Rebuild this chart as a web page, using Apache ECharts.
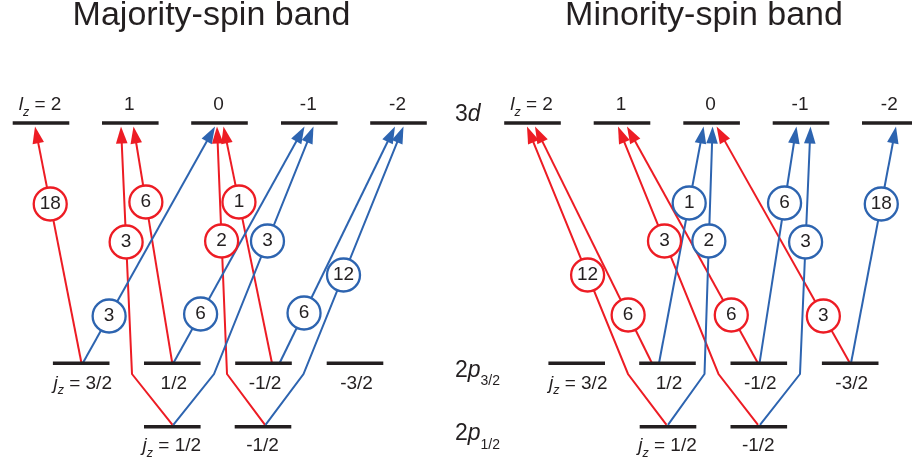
<!DOCTYPE html>
<html><head><meta charset="utf-8">
<script src="https://cdn.jsdelivr.net/npm/echarts@6/dist/echarts.min.js"></script>
<style>html,body{margin:0;padding:0;background:#fff}#c{width:912px;height:465px}</style>
</head><body><div id="c"></div>
<script>
// ================= DATA =================
const panelTitles = ['Majority-spin band', 'Minority-spin band'];
const lzValues   = ['2', '1', '0', '-1', '-2'];          // 3d levels (l_z)
const jz32Values = ['3/2', '1/2', '-1/2', '-3/2'];       // 2p3/2 levels (j_z)
const jz12Values = ['1/2', '-1/2'];                      // 2p1/2 levels (j_z)
const shellMain  = ['3', '2', '2'];
const shellItal  = ['d', 'p', 'p'];
const shellSub   = ['', '3/2', '1/2'];
// transitions: [initial shell, initial j_z index, final l_z index, relative intensity]
const majorityRed  = [['p32',0,0,18], ['p12',0,1,3], ['p32',1,1,6], ['p12',1,2,2], ['p32',2,2,1]];
const majorityBlue = [['p32',0,2,3],  ['p32',1,3,6], ['p12',0,3,3], ['p32',2,4,6], ['p12',1,4,12]];
const minorityRed  = [['p12',0,0,12], ['p32',1,0,6], ['p12',1,1,3], ['p32',2,1,6], ['p32',3,2,3]];
const minorityBlue = [['p32',1,2,1],  ['p12',0,2,2], ['p32',2,3,6], ['p12',1,3,3], ['p32',3,4,18]];

// ================= LAYOUT / STYLE =================
const RED = '#ED1C24', BLUE = '#2D64B0', INK = '#231F20';
const FAM = '"Liberation Sans", Arial, Helvetica, sans-serif';
const LAYOUT = {
  panels: [
    { d: [41, 130.3, 219.5, 309.3, 398.5], p32: [81.2, 172.3, 263.5, 355], p12: [172.3, 263], title: 211.5 },
    { d: [532.5, 622, 711.6, 801, 890.3], p32: [576.7, 667.5, 758.8, 850.2], p12: [668, 758.8], title: 704 }
  ],
  yD: 123, yP32: 363.3, yP12: 426.7, halfBar: 28.3, yBend: 374, yTip: 126.5, shellX: 455
};
// per transition: [start dx, tip dx, bend dx (2p1/2 only), circle y]
const GEOM = {
  majorityRed:  [[0.3,-6,null,204], [0.2,-9.3,-40.3,242], [0,3.2,null,202], [2,-2.5,-36,241], [8.5,4,null,202]],
  majorityBlue: [[1.5,-4.5,null,316], [1,-4.8,null,314], [1,4.2,41.7,241], [16,-3.5,null,313], [2.5,5,40.5,275]],
  minorityRed:  [[-1.5,-5.5,-40,275], [-15.5,2.5,null,315], [-0.8,-4,-40.3,241], [-0.8,5,null,315], [-0.2,5,null,316]],
  minorityBlue: [[-8.5,-8,null,203], [0,1,36.5,241], [0.7,-4.5,null,203], [1.2,9.5,41.2,242], [0.8,5.7,null,204]]
};

const groups = [
  { panel: 0, color: RED,  list: majorityRed,  geom: GEOM.majorityRed },
  { panel: 0, color: BLUE, list: majorityBlue, geom: GEOM.majorityBlue },
  { panel: 1, color: RED,  list: minorityRed,  geom: GEOM.minorityRed },
  { panel: 1, color: BLUE, list: minorityBlue, geom: GEOM.minorityBlue }
];

const arrows = [];
groups.forEach(g => {
  const P = LAYOUT.panels[g.panel];
  g.list.forEach((t, k) => {
    const [shell, fi, ti, w] = t;
    const [sdx, tdx, bdx, cy] = g.geom[k];
    const fromX = P[shell][fi];
    const pts = [];
    if (shell === 'p12') {
      pts.push([fromX + sdx, LAYOUT.yP12 - 1.8]);
      pts.push([fromX + bdx, LAYOUT.yBend]);
    } else {
      pts.push([fromX + sdx, LAYOUT.yP32]);
    }
    pts.push([P.d[ti] + tdx, LAYOUT.yTip]);
    const a = pts[pts.length - 2], b = pts[pts.length - 1];
    const f = (cy - a[1]) / (b[1] - a[1]);
    arrows.push({ pts, color: g.color, weight: w, circle: [a[0] + f * (b[0] - a[0]), cy] });
  });
});

// level bars
const bars = [];
LAYOUT.panels.forEach(P => {
  P.d.forEach(x => bars.push([x, LAYOUT.yD]));
  P.p32.forEach(x => bars.push([x, LAYOUT.yP32]));
  P.p12.forEach(x => bars.push([x, LAYOUT.yP12]));
});

// text items
const texts = [];
LAYOUT.panels.forEach((P, i) => {
  texts.push({ x: P.title, y: 15.5, align: 'center', size: 34, parts: [{ t: panelTitles[i] }] });
  lzValues.forEach((v, j) => {
    const parts = j === 0 ? [{ t: 'l', it: 1 }, { t: 'z', it: 1, sub: 1 }, { t: ' = ' + v }] : [{ t: v }];
    texts.push({ x: P.d[j] - 1, y: 104.7, align: 'center', size: 19, subSize: 12.5, drop: 7.8, parts });
  });
  jz32Values.forEach((v, j) => {
    const parts = j === 0 ? [{ t: 'j', it: 1 }, { t: 'z', it: 1, sub: 1 }, { t: ' = ' + v }] : [{ t: v }];
    texts.push({ x: P.p32[j] + 1.5, y: 383.7, align: 'center', size: 19, subSize: 12.5, drop: 7.3, parts });
  });
  jz12Values.forEach((v, j) => {
    const parts = j === 0 ? [{ t: 'j', it: 1 }, { t: 'z', it: 1, sub: 1 }, { t: ' = ' + v }] : [{ t: v }];
    texts.push({ x: P.p12[j] - 0.5, y: 446.2, align: 'center', size: 19, subSize: 12.5, drop: 7.3, parts });
  });
});
const shellY = [115, 370.6, 434];
shellMain.forEach((m, i) => {
  const parts = [{ t: m }, { t: shellItal[i], it: 1 }];
  if (shellSub[i]) parts.push({ t: shellSub[i], sub: 1 });
  texts.push({ x: LAYOUT.shellX, y: shellY[i], align: 'left', size: 23, subSize: 14, drop: 10.8, parts });
});

// ================= RENDER =================
const mctx = document.createElement('canvas').getContext('2d');
function fontOf(size, it) { return (it ? 'italic ' : '') + size + 'px ' + FAM; }
function measure(t, font) { mctx.font = font; return mctx.measureText(t).width; }

const chart = echarts.init(document.getElementById('c'), null, { renderer: 'canvas' });

function renderArrow(params, api) {
  const A = arrows[params.dataIndex];
  const pts = A.pts.map(p => api.coord(p));
  const n = pts.length, a = pts[n - 2], b = pts[n - 1];
  const dx = b[0] - a[0], dy = b[1] - a[1], L = Math.hypot(dx, dy);
  const ux = dx / L, uy = dy / L, hl = 17, hw = 5.8;
  const base = [b[0] - ux * hl, b[1] - uy * hl];
  const line = pts.slice(0, n - 1).concat([[b[0] - ux * hl * 0.7, b[1] - uy * hl * 0.7]]);
  return {
    type: 'group',
    children: [
      { type: 'polyline', shape: { points: line }, style: { stroke: A.color, lineWidth: 2, fill: null, lineJoin: 'miter' } },
      { type: 'polygon', shape: { points: [b, [base[0] - uy * hw, base[1] + ux * hw], [base[0] + uy * hw, base[1] - ux * hw]] },
        style: { fill: A.color } }
    ]
  };
}

function renderBar(params, api) {
  const c = bars[params.dataIndex];
  const p1 = api.coord([c[0] - LAYOUT.halfBar, c[1]]);
  const p2 = api.coord([c[0] + LAYOUT.halfBar, c[1]]);
  return { type: 'line', shape: { x1: p1[0], y1: p1[1], x2: p2[0], y2: p2[1] }, style: { stroke: INK, lineWidth: 3.5 } };
}

function renderText(params, api) {
  const T = texts[params.dataIndex];
  const p = api.coord([T.x, T.y]);
  const items = T.parts.map(pt => {
    const font = fontOf(pt.sub ? T.subSize : T.size, pt.it);
    return { pt, font, w: measure(pt.t, font) };
  });
  const total = items.reduce((s, it) => s + it.w, 0);
  let x = T.align === 'center' ? p[0] - total / 2 : p[0];
  const children = items.map(it => {
    const el = {
      type: 'text', x: x, y: p[1] + (it.pt.sub ? T.drop : 0),
      style: { text: it.pt.t, font: it.font, fill: INK, align: 'left', verticalAlign: 'middle', textAlign: 'left', textVerticalAlign: 'middle' }
    };
    x += it.w;
    return el;
  });
  return { type: 'group', children };
}

chart.setOption({
  animation: false,
  backgroundColor: '#ffffff',
  grid: { left: 0, right: 0, top: 0, bottom: 0 },
  xAxis: { type: 'value', min: 0, max: 912, show: false },
  yAxis: { type: 'value', min: 0, max: 465, inverse: true, show: false },
  series: [
    { type: 'custom', name: 'transitions', silent: true, z: 2, renderItem: renderArrow,
      data: arrows.map((a, i) => [a.pts[0][0], a.pts[0][1], i]) },
    { type: 'scatter', name: 'intensity', silent: true, z: 3, symbol: 'circle', symbolSize: 33,
      data: arrows.map(a => ({
        value: [a.circle[0], a.circle[1], a.weight],
        itemStyle: { color: '#ffffff', borderColor: a.color, borderWidth: 2.3, opacity: 1 },
        label: { show: true, position: 'inside', formatter: String(a.weight), color: INK, fontSize: 19, fontFamily: FAM }
      })) },
    { type: 'custom', name: 'levels', silent: true, z: 4, renderItem: renderBar,
      data: bars.map((b, i) => [b[0], b[1], i]) },
    { type: 'custom', name: 'labels', silent: true, z: 5, renderItem: renderText,
      data: texts.map((t, i) => [t.x, t.y, i]) }
  ]
});
</script>
</body></html>
